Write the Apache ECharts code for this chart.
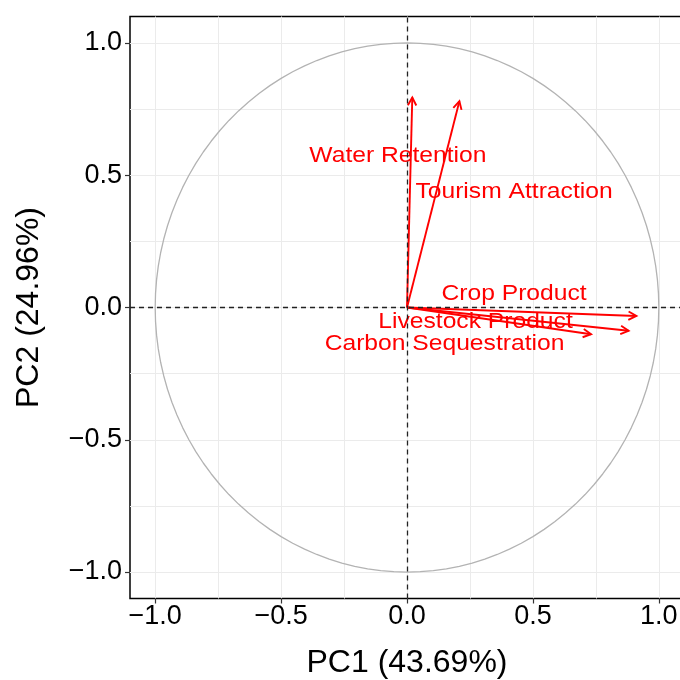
<!DOCTYPE html>
<html><head><meta charset="utf-8">
<script src="https://cdn.jsdelivr.net/npm/echarts@6/dist/echarts.min.js"></script>
<style>html,body{margin:0;padding:0;background:#fff}#c{width:680px;height:680px}</style>
</head><body><div id="c"></div>
<script>
const variables = ['Water Retention', 'Tourism Attraction', 'Crop Product', 'Livestock Product', 'Carbon Sequestration'];
const pc1 = [0.021, 0.208, 0.911, 0.880, 0.731];
const pc2 = [0.794, 0.780, -0.032, -0.088, -0.101];
const labelX = [-0.036, 0.425, 0.425, 0.272, 0.149];
const labelY = [0.573, 0.437, 0.051, -0.054, -0.138];
const tickValues = [-1.0, -0.5, 0.0, 0.5, 1.0];
const xTitle = 'PC1 (43.69%)';
const yTitle = 'PC2 (24.96%)';

// unit circle reference (geometry, not data)
const circle = [];
for (let i = 0; i <= 120; i++) {
  const t = i / 120 * 2 * Math.PI;
  circle.push([Math.cos(t), Math.sin(t)]);
}

const FONT = '"Liberation Sans", Arial, Helvetica, sans-serif';
const fmt = v => (Math.abs(v) < 1e-9 ? 0 : v).toFixed(1).replace('-', '\u2212');

function axisCommon(isX) {
  return {
    type: 'value', min: -1.1, max: 1.1, splitNumber: 5,
    axisLine: { show: false, onZero: false },
    axisTick: { show: true, length: 5, customValues: tickValues, lineStyle: { color: '#333', width: 1.2 } },
    axisLabel: { customValues: tickValues, formatter: fmt, color: '#000', fontSize: 27, fontFamily: FONT, margin: isX ? 5 : 8 },
    splitLine: { show: true, lineStyle: { color: '#ebebeb', width: 1 } },
    minorTick: { show: false, splitNumber: 2 },
    minorSplitLine: { show: true, lineStyle: { color: '#ebebeb', width: 1 } },
    name: isX ? xTitle : yTitle, nameLocation: 'middle', nameGap: isX ? 49 : 85,
    nameTextStyle: { color: '#000', fontSize: 32, fontFamily: FONT }
  };
}

const chart = echarts.init(document.getElementById('c'));
chart.setOption({
  animation: false,
  backgroundColor: '#fff',
  grid: { left: 130, top: 16.5, width: 554, height: 582, containLabel: false, outerBoundsMode: 'none', show: true, borderColor: '#000', borderWidth: 1.5, backgroundColor: 'transparent' },
  xAxis: axisCommon(true),
  yAxis: axisCommon(false),
  series: [
    {
      type: 'line', data: circle, showSymbol: false, silent: true, z: 1,
      lineStyle: { color: '#b3b3b3', width: 1.3 },
      markLine: {
        symbol: 'none', silent: true, label: { show: false },
        lineStyle: { color: '#222', type: [5, 4], width: 1.3 },
        data: [{ xAxis: 0 }, { yAxis: 0 }]
      }
    },
    {
      type: 'custom', z: 3,
      data: pc1.map((x, i) => [x, pc2[i]]),
      renderItem: (params, api) => {
        const p0 = api.coord([0, 0]);
        const p1 = api.coord([api.value(0), api.value(1)]);
        const a = Math.atan2(p1[1] - p0[1], p1[0] - p0[0]);
        const L = 9, h = 28 * Math.PI / 180;
        const l1 = [p1[0] - L * Math.cos(a - h), p1[1] - L * Math.sin(a - h)];
        const l2 = [p1[0] - L * Math.cos(a + h), p1[1] - L * Math.sin(a + h)];
        return {
          type: 'group', children: [
            { type: 'line', shape: { x1: p0[0], y1: p0[1], x2: p1[0], y2: p1[1] }, style: { stroke: '#ff0000', lineWidth: 1.9 } },
            { type: 'polyline', shape: { points: [l1, p1, l2] }, style: { stroke: '#ff0000', lineWidth: 1.9, fill: null } }
          ]
        };
      }
    },
    {
      type: 'custom', z: 4,
      data: labelX.map((x, i) => [x, labelY[i]]),
      renderItem: (params, api) => {
        const p = api.coord([api.value(0), api.value(1)]);
        return {
          type: 'text', x: p[0], y: p[1], scaleX: 1.12,
          style: { text: variables[params.dataIndex], fill: '#ff0000', fontSize: 22, fontFamily: FONT, align: 'center', verticalAlign: 'middle' }
        };
      }
    }
  ]
});
</script>
</body></html>
